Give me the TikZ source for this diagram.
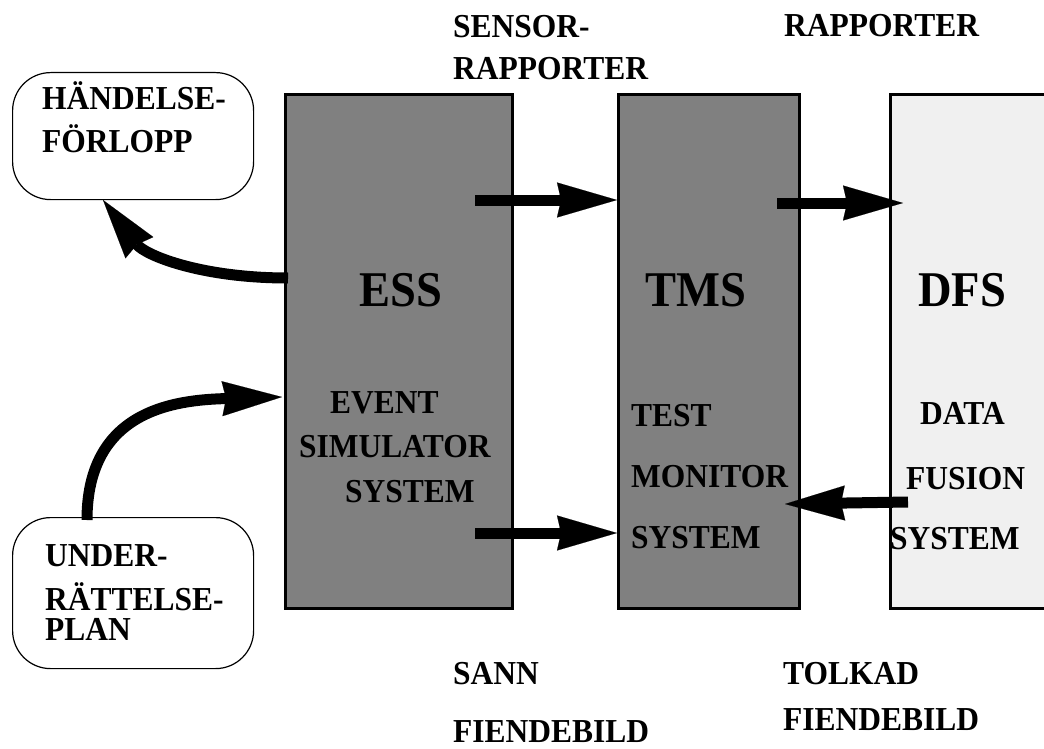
\documentclass[tikz,border=0pt]{standalone}
\usepackage{fontspec}
\setmainfont{Liberation Serif}
\newfontfamily\lblfont{Liberation Serif}[FakeStretch=0.94]
\newfontfamily\bigfont{Liberation Serif}[FakeStretch=0.93]
\usetikzlibrary{arrows.meta}

\definecolor{boxgray}{HTML}{808080}
\definecolor{boxlight}{HTML}{F0F0F0}

\tikzset{
  sysbox/.style = {draw=black, line width=3pt, fill=boxgray, anchor=north west, inner sep=0pt},
  roundbox/.style = {draw=black, line width=1.2pt, rounded corners=38pt, fill=white, anchor=north west, inner sep=0pt, minimum width=241pt},
  lbl/.style = {font=\lblfont\bfseries\fontsize{33.5}{38}\selectfont, anchor=base west, inner sep=0pt},
  biglbl/.style = {font=\bigfont\bfseries\fontsize{50}{56}\selectfont, anchor=base west, inner sep=0pt},
  flow/.style = {draw=black, line width=11pt,
    -{Stealth[length=60pt, width=35pt, inset=4pt, line width=0.1pt]}},
}

\begin{document}
\begin{tikzpicture}[x=1pt, y=1pt]
  \useasboundingbox (0,0) rectangle (1044,-749);
  \clip (0,0) rectangle (1044,-749);
  \fill[white] (0,0) rectangle (1044,-749);

  % system blocks
  \node[sysbox, minimum width=227pt, minimum height=514pt] (ess) at (284,-93) {};
  \node[sysbox, minimum width=181pt, minimum height=514pt] (tms) at (617,-93) {};
  \node[sysbox, fill=boxlight, minimum width=200pt, minimum height=514pt] (dfs) at (889,-93) {};

  % rounded input / output boxes
  \node[roundbox, minimum height=127pt] (hand) at (12,-72) {};
  \node[roundbox, minimum height=151pt] (under) at (12,-517) {};

  % block titles
  \node[biglbl] (essT) at (359,-306) {ESS};
  \node[biglbl] (tmsT) at (645,-306) {TMS};
  \node[biglbl] (dfsT) at (918,-306) {DFS};

  % ESS description
  \node[lbl] (essA) at (330,-413) {EVENT};
  \node[lbl] (essB) at (299,-457) {SIMULATOR};
  \node[lbl] (essC) at (345,-502) {SYSTEM};

  % TMS description
  \node[lbl] (tmsA) at (631,-426) {TEST};
  \node[lbl] (tmsB) at (631,-487) {MONITOR};
  \node[lbl] (tmsC) at (631,-548) {SYSTEM};

  % DFS description
  \node[lbl] (dfsA) at (920,-424) {DATA};
  \node[lbl] (dfsB) at (906,-489) {FUSION};
  \node[lbl] (dfsC) at (890,-549) {SYSTEM};

  % rounded box texts
  \node[lbl] (handA) at (42,-110) {HÄNDELSE-};
  \node[lbl] (handB) at (42,-153) {FÖRLOPP};
  \node[lbl] (undA) at (45,-566) {UNDER-};
  \node[lbl] (undB) at (45,-610) {RÄTTELSE-};
  \node[lbl] (undC) at (45,-640) {PLAN};

  % flow labels
  \node[lbl] (sensA) at (453,-38) {SENSOR-};
  \node[lbl] (sensB) at (453,-80) {RAPPORTER};
  \node[lbl] (rapp) at (784,-37) {RAPPORTER};
  \node[lbl] (sannA) at (453,-684) {SANN};
  \node[lbl] (sannB) at (453,-742) {FIENDEBILD};
  \node[lbl] (tolkA) at (783,-684) {TOLKAD};
  \node[lbl] (tolkB) at (783,-730) {FIENDEBILD};

  % connector end points
  \coordinate (s1) at (475,-200);
  \coordinate (s2) at (475,-533);
  \coordinate (s3) at (777,-203);
  \coordinate (e3) at (903,-203);
  \coordinate (s4) at (908,-502);
  \coordinate (e4) at (785,-504);
  \coordinate (s5) at (288,-278);
  \coordinate (e5) at (103,-200);
  \coordinate (s6) at (87,-520);
  \coordinate (e6) at (282,-397);

  % straight flows
  \draw[flow] (s1) -- (tms.west |- s1);
  \draw[flow] (s2) -- (tms.west |- s2);
  \draw[flow] (s3) -- (e3);
  \draw[flow] (s4) -- (e4);

  % curved flows
  \draw[flow] (s5) .. controls (200,-278) and (145,-255) .. (e5);
  \draw[flow] (s6) .. controls (87,-410) and (175,-400) .. (e6);
\end{tikzpicture}
\end{document}
